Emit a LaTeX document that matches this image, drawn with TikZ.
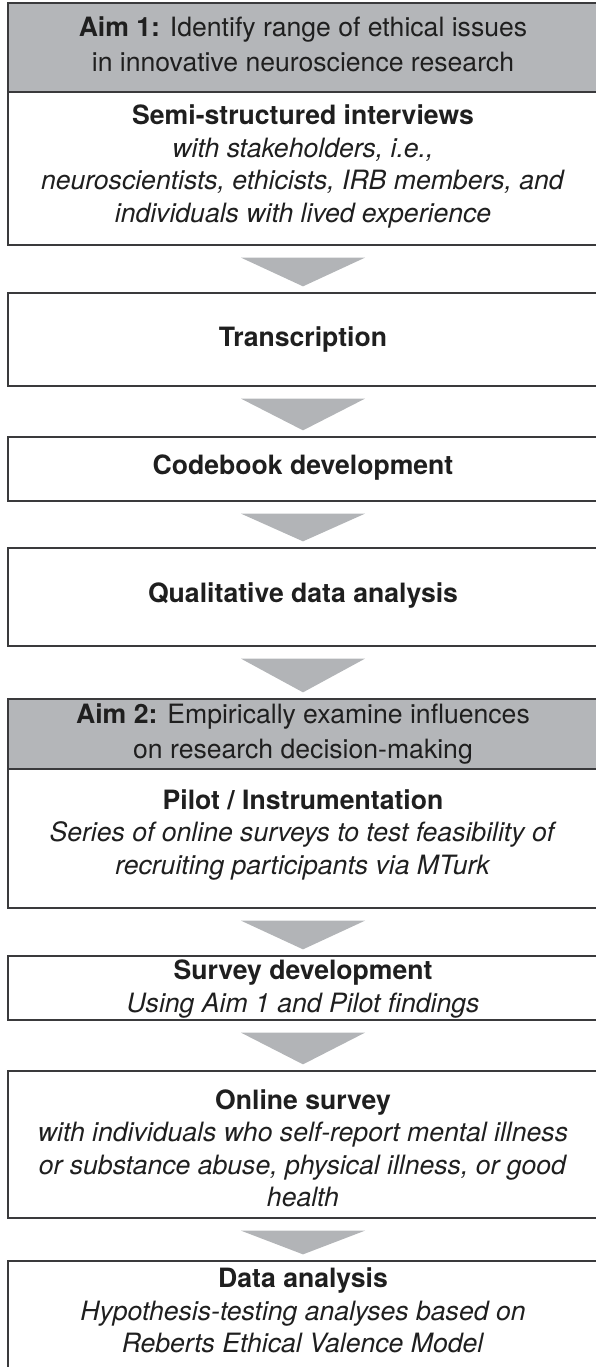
\documentclass[tikz,border=0pt]{standalone}
\usepackage{fontspec}
\setmainfont{TeX Gyre Heros}
\usetikzlibrary{calc}
\definecolor{boxline}{HTML}{3A3A3C}
\definecolor{headgray}{HTML}{B4B6B9}
\definecolor{arrowgray}{HTML}{B2B4B7}
\begin{document}
\begin{tikzpicture}[x=1pt,y=-1pt,
  txt/.style={font=\fontsize{26.6}{32.5}\selectfont, align=center, text=black!88, inner sep=0pt},
  headtxt/.style={txt, font=\fontsize{26.6}{34.5}\selectfont},
  stepbox/.style={draw=boxline, line width=1.3pt, fill=white, minimum width=590pt, inner sep=0pt},
  headbox/.style={stepbox, fill=headgray},
  flowarrow/.style={fill=arrowgray, draw=none}
]
\useasboundingbox (0,0) rectangle (596,1367);
\clip (0,0) rectangle (596,1367);

% Boxes of the flow, top to bottom
\node[headbox, minimum height=89pt]  (aim1)   at (303,47.5)  {};
\node[stepbox, minimum height=153pt] (semi)   at (303,168.5) {};
\node[stepbox, minimum height=93pt]  (trans)  at (303,339.5) {};
\node[stepbox, minimum height=64pt]  (code)   at (303,469)   {};
\node[stepbox, minimum height=98pt]  (qual)   at (303,597)   {};
\node[headbox, minimum height=70pt]  (aim2)   at (303,734)   {};
\node[stepbox, minimum height=139pt] (pilot)  at (303,838.5) {};
\node[stepbox, minimum height=64pt]  (survey) at (303,988)   {};
\node[stepbox, minimum height=147pt] (online) at (303,1144.5){};
\node[stepbox, minimum height=120pt] (data)   at (303,1321)  {};

% Texts of the boxes
\node[headtxt] (aim1txt) at ($(aim1.center)+(0,-3)$)
  {\textbf{Aim 1:} Identify range of ethical issues\\in innovative neuroscience research};
\node[txt] (semitxt) at ($(semi.center)+(0,-2)$)
  {\textbf{Semi-structured interviews}\\\textit{with stakeholders, i.e.,}\\\textit{neuroscientists, ethicists, IRB members, and}\\\textit{individuals with lived experience}};
\node[txt] (transtxt) at (trans.center) {\textbf{Transcription}};
\node[txt] (codetxt) at ($(code.center)+(0,-1)$) {\textbf{Codebook development}};
\node[txt] (qualtxt) at ($(qual.center)+(0,-2)$) {\textbf{Qualitative data analysis}};
\node[headtxt] (aim2txt) at (aim2.center)
  {\textbf{Aim 2:} Empirically examine influences\\on research decision-making};
\node[txt] (pilottxt) at ($(pilot.center)+(0,-4)$)
  {\textbf{Pilot / Instrumentation}\\\textit{Series of online surveys to test feasibility of}\\\textit{recruiting participants via MTurk}};
\node[txt] (surveytxt) at ($(survey.center)+(0,1)$)
  {\textbf{Survey development}\\\textit{Using Aim 1 and Pilot findings}};
\node[txt] (onlinetxt) at ($(online.center)+(0,4)$)
  {\textbf{Online survey}\\\textit{with individuals who self-report mental illness}\\\textit{or substance abuse, physical illness, or good}\\\textit{health}};
\node[txt] (datatxt) at ($(data.north)+(0,50)$)
  {\textbf{Data analysis}\\\textit{Hypothesis-testing analyses based on}\\\textit{Reberts Ethical Valence Model}};

% Downward wedge arrows between the steps
\foreach \a/\b in {semi/trans, trans/code, code/qual, qual/aim2, pilot/survey, survey/online, online/data}{
  \fill[flowarrow] ($(\a.south)+(-62,12)$) -- ($(\a.south)+(62,12)$)
    -- ($(\b.north)+(0,-6)$) -- cycle;
}
\end{tikzpicture}
\end{document}
